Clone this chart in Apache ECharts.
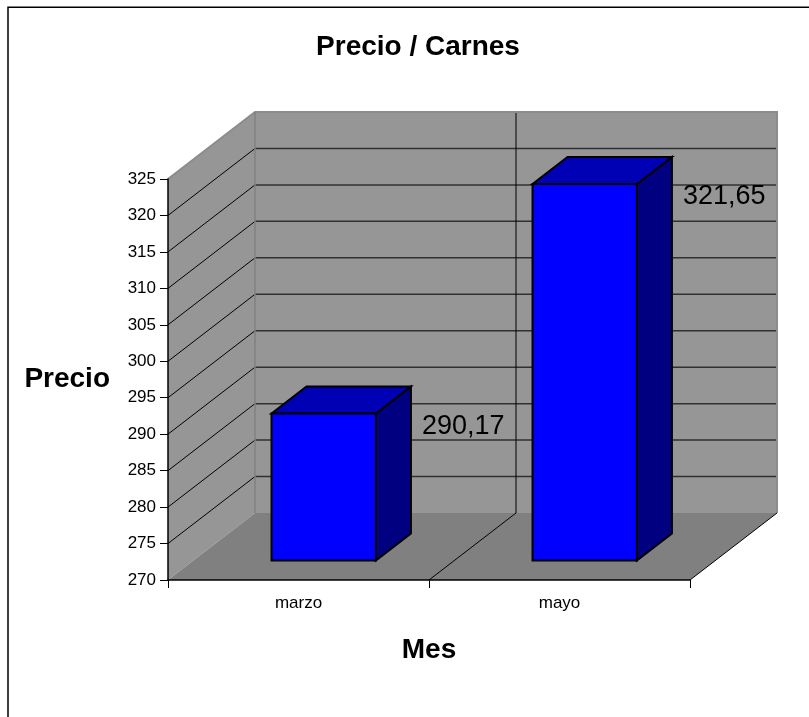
<!DOCTYPE html>
<html>
<head>
<meta charset="utf-8">
<title>Precio / Carnes</title>
<script src="https://cdn.jsdelivr.net/npm/echarts@6/dist/echarts.min.js"></script>
<style>
  html, body { margin: 0; padding: 0; background: #fff; }
  #chart { width: 809px; height: 717px; }
</style>
</head>
<body>
<div id="chart"></div>
<script>
// datos
const meses = ['marzo', 'mayo']
const precios = [290.17, 321.65]
const yMin = 270
const yMax = 325
const yStep = 5

// profundidad del efecto 3D (px)
const DX = 87
const DY = -67
const FONT = 'Arial, "Liberation Sans", sans-serif'

const chart = echarts.init(document.getElementById('chart'))

function yTicks() {
  const out = []
  for (let v = yMin; v <= yMax + 1e-9; v += yStep) out.push(v)
  return out
}

// paredes, piso y líneas de división
function renderWalls(params, api) {
  const cs = params.coordSys
  const x0 = cs.x, x1 = cs.x + cs.width
  const yt = cs.y, yb = cs.y + cs.height
  const children = []

  children.push({
    type: 'polygon',
    shape: { points: [[x0, yb], [x0, yt], [x0 + DX, yt + DY], [x0 + DX, yb + DY]] },
    style: { fill: '#969696' }
  })
  children.push({
    type: 'polygon',
    shape: { points: [[x0 + DX, yt + DY], [x1 + DX, yt + DY], [x1 + DX, yb + DY], [x0 + DX, yb + DY]] },
    style: { fill: '#969696' }
  })
  children.push({
    type: 'polygon',
    shape: { points: [[x0, yb], [x1, yb], [x1 + DX, yb + DY], [x0 + DX, yb + DY]] },
    style: { fill: '#808080' }
  })

  yTicks().forEach(function (v) {
    if (v === yMin || v === yMax) return
    const y = api.coord([0, v])[1]
    children.push({
      type: 'line',
      shape: { x1: x0 + DX, y1: y + DY, x2: x1 + DX, y2: y + DY },
      style: { stroke: '#303030', lineWidth: 1.5 }
    })
    children.push({
      type: 'line',
      shape: { x1: x0, y1: y, x2: x0 + DX, y2: y + DY },
      style: { stroke: '#000', lineWidth: 1 }
    })
  })

  const band = cs.width / meses.length
  for (let i = 1; i < meses.length; i++) {
    const xi = x0 + band * i
    children.push({
      type: 'line',
      shape: { x1: xi + DX, y1: yt + DY, x2: xi + DX, y2: yb + DY },
      style: { stroke: '#000', lineWidth: 1 }
    })
    children.push({
      type: 'line',
      shape: { x1: xi, y1: yb, x2: xi + DX, y2: yb + DY },
      style: { stroke: '#000', lineWidth: 1 }
    })
  }

  // bordes de las paredes
  children.push({
    type: 'polyline',
    shape: { points: [[x0, yt], [x0 + DX, yt + DY], [x1 + DX, yt + DY], [x1 + DX, yb + DY]] },
    style: { stroke: '#8c8c8c', lineWidth: 2, fill: null }
  })
  children.push({
    type: 'line',
    shape: { x1: x0 + DX, y1: yt + DY, x2: x0 + DX, y2: yb + DY },
    style: { stroke: '#808080', lineWidth: 1.5 }
  })
  children.push({
    type: 'line',
    shape: { x1: x1, y1: yb, x2: x1 + DX, y2: yb + DY },
    style: { stroke: '#000', lineWidth: 1 }
  })

  return { type: 'group', children: children }
}

// barras 3D
function renderBar(params, api) {
  const idx = api.value(0)
  const top = api.coord([idx, api.value(1)])
  const base = api.coord([idx, yMin])
  const band = api.size([1, 0])[0]
  const w = band * 0.4
  const ox = DX * 0.29, oy = DY * 0.29
  const bx = 35, by = -27
  const l = top[0] - w / 2 + ox
  const r = top[0] + w / 2 + ox
  const t = top[1] + oy
  const b = base[1] + oy
  const edge = { stroke: '#000', lineWidth: 2, lineJoin: 'miter' }
  const label = api.value(1).toFixed(2).replace('.', ',')

  return {
    type: 'group',
    children: [
      {
        type: 'polygon',
        shape: { points: [[r, t], [r + bx, t + by], [r + bx, b + by], [r, b]] },
        style: Object.assign({ fill: '#000080' }, edge)
      },
      {
        type: 'polygon',
        shape: { points: [[l, t], [l + bx, t + by], [r + bx, t + by], [r, t]] },
        style: Object.assign({ fill: '#0000B4' }, edge)
      },
      {
        type: 'rect',
        shape: { x: l, y: t, width: r - l, height: b - t },
        style: Object.assign({ fill: '#0000FF' }, edge)
      },
      {
        type: 'text',
        x: r + bx + 11,
        y: t + 13,
        style: {
          text: label,
          fill: '#000',
          font: '27px ' + FONT,
          textAlign: 'left',
          textVerticalAlign: 'middle'
        }
      }
    ]
  }
}

chart.setOption({
  animation: false,
  backgroundColor: '#fff',
  title: {
    text: 'Precio / Carnes',
    left: 413,
    textAlign: 'center',
    top: 28,
    textStyle: { fontFamily: FONT, fontSize: 28, fontWeight: 'bold', color: '#000' }
  },
  graphic: [{
    type: 'rect',
    shape: { x: 8, y: 7.3, width: 900, height: 900 },
    style: { fill: null, stroke: '#000', lineWidth: 1.5 },
    silent: true
  }],
  grid: { left: 168, right: 119, top: 179, bottom: 137 },
  xAxis: {
    type: 'category',
    data: meses,
    boundaryGap: true,
    z: 5,
    name: 'Mes',
    nameLocation: 'middle',
    nameGap: 56,
    nameTextStyle: { fontFamily: FONT, fontSize: 28, fontWeight: 'bold', color: '#000' },
    axisLine: { lineStyle: { color: '#000', width: 1.5 } },
    axisTick: { show: true, length: 8, lineStyle: { color: '#000' } },
    axisLabel: { fontFamily: FONT, fontSize: 17, color: '#000', margin: 15 },
    splitLine: { show: false }
  },
  yAxis: {
    type: 'value',
    min: yMin,
    max: yMax,
    interval: yStep,
    z: 5,
    name: 'Precio',
    nameLocation: 'middle',
    nameRotate: 0,
    nameGap: 58,
    nameTextStyle: { fontFamily: FONT, fontSize: 28, fontWeight: 'bold', color: '#000', padding: [0, 0, 6, 0] },
    axisLine: { show: true, lineStyle: { color: '#000', width: 1.5 } },
    axisTick: { show: true, length: 8, lineStyle: { color: '#000' } },
    axisLabel: { fontFamily: FONT, fontSize: 17, color: '#000', margin: 12 },
    splitLine: { show: false }
  },
  series: [
    {
      type: 'custom',
      name: 'paredes',
      clip: false,
      silent: true,
      z: 1,
      renderItem: renderWalls,
      data: [[0, yMin]]
    },
    {
      type: 'custom',
      name: 'Precio',
      clip: false,
      z: 3,
      renderItem: renderBar,
      encode: { x: 0, y: 1 },
      data: meses.map(function (m, i) { return [i, precios[i]] })
    }
  ]
})

window.addEventListener('resize', function () { chart.resize() })
</script>
</body>
</html>
